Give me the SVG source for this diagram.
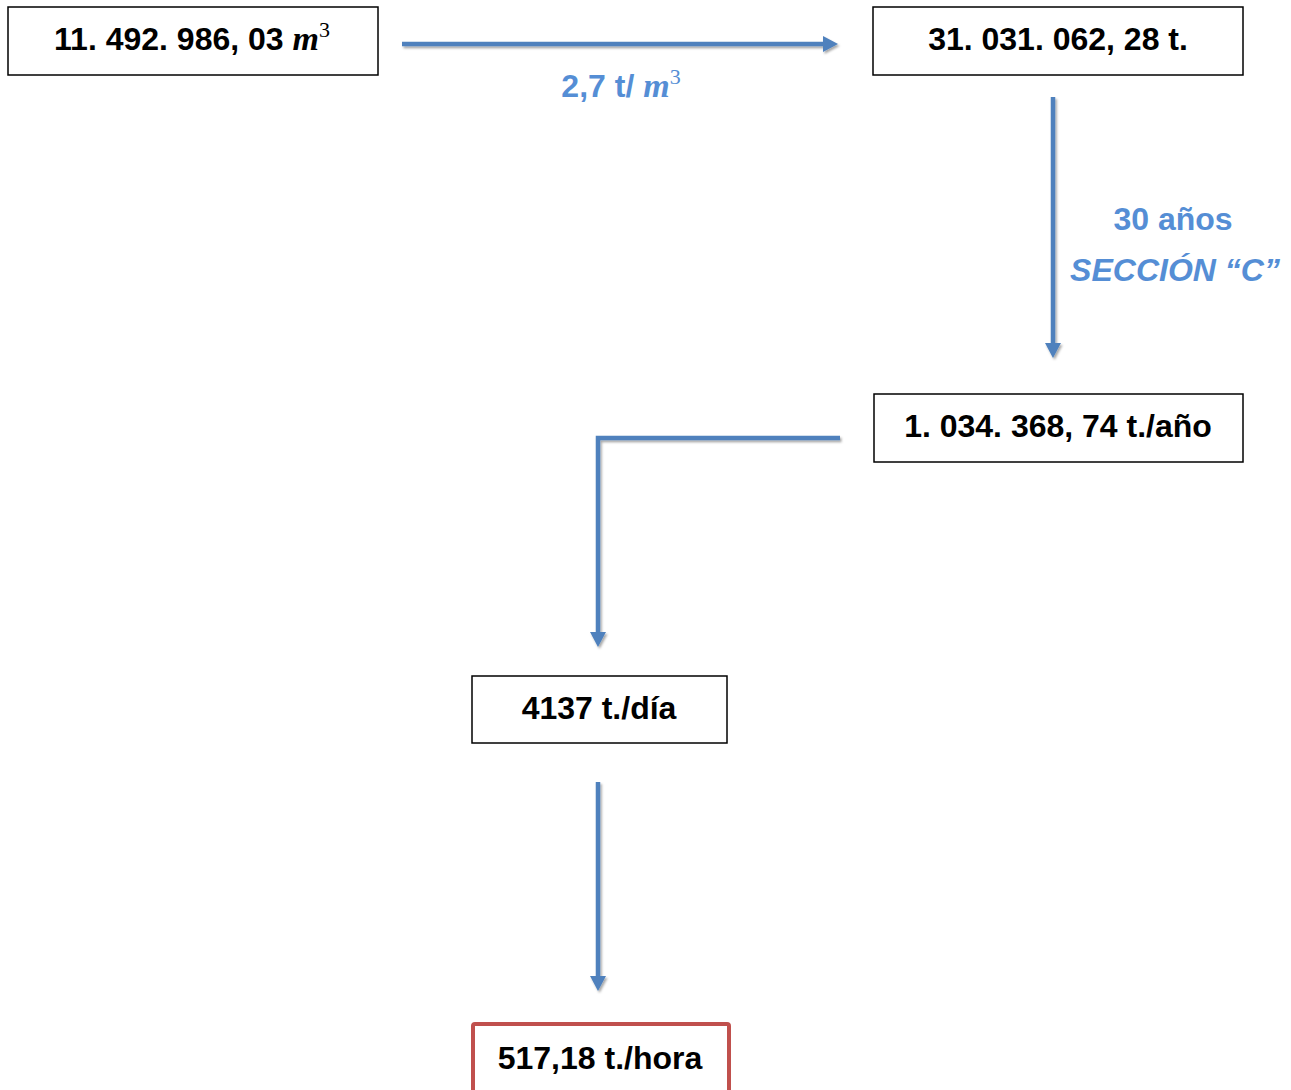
<svg xmlns="http://www.w3.org/2000/svg" width="1291" height="1090" viewBox="0 0 1291 1090">
<style>
.box{fill:#fff;stroke:#000;stroke-width:1.5}
.red{fill:#fff;stroke:#C0504D;stroke-width:4}
.t{font-family:"Liberation Sans",Arial,sans-serif;font-weight:bold;font-size:32px;fill:#000;text-anchor:middle}
.lbl{font-family:"Liberation Sans",Arial,sans-serif;font-weight:bold;font-size:32px;fill:#558ED5;text-anchor:middle}
.m{font-family:"Liberation Serif","Times New Roman",serif;font-style:italic;font-weight:bold;font-size:34px}
.sup{font-family:"Liberation Serif","Times New Roman",serif;font-style:normal;font-weight:normal;font-size:22px}
.conn{fill:none;stroke:#4F81BD;stroke-width:4.5;filter:url(#sh)}
</style>
<defs>
<filter id="sh" filterUnits="userSpaceOnUse" x="0" y="0" width="1291" height="1090">
<feDropShadow dx="1.5" dy="2" stdDeviation="1.2" flood-color="#000" flood-opacity="0.35"/>
</filter>
<marker id="ah" markerUnits="userSpaceOnUse" markerWidth="17" markerHeight="17" refX="1" refY="8" orient="auto">
<path d="M0,0 L15,8 L0,16 z" fill="#4F81BD"/>
</marker>
</defs>
<g id="connectors">
<path class="conn" d="M402,44 H824" marker-end="url(#ah)"/>
<path class="conn" d="M1053,97 V344" marker-end="url(#ah)"/>
<path class="conn" d="M840,438 H598 V633" marker-end="url(#ah)"/>
<path class="conn" d="M598,782 V977" marker-end="url(#ah)"/>
</g>
<g id="label-density"><text class="lbl" x="621" y="97">2,7 t/ <tspan class="m">m</tspan><tspan class="sup" dy="-13">3</tspan></text></g>
<g id="label-years">
<text class="lbl" x="1173" y="230">30 años</text>
<text class="lbl" x="1175" y="281" font-style="italic">SECCIÓN “C”</text>
</g>
<g id="n1"><rect class="box" x="8" y="7" width="370" height="68"/>
<text class="t" x="192" y="50">11. 492. 986, 03 <tspan class="m">m</tspan><tspan class="sup" dy="-13">3</tspan></text></g>
<g id="n2"><rect class="box" x="873" y="7" width="370" height="68"/>
<text class="t" x="1058" y="50">31. 031. 062, 28 t.</text></g>
<g id="n3"><rect class="box" x="874" y="394" width="369" height="68"/>
<text class="t" x="1058" y="437">1. 034. 368, 74 t./año</text></g>
<g id="n4"><rect class="box" x="472" y="676" width="255" height="67"/>
<text class="t" x="599" y="719">4137 t./día</text></g>
<g id="n5"><rect class="red" x="473" y="1024" width="256" height="80" rx="2"/>
<text class="t" x="600" y="1069">517,18 t./hora</text></g>
</svg>
